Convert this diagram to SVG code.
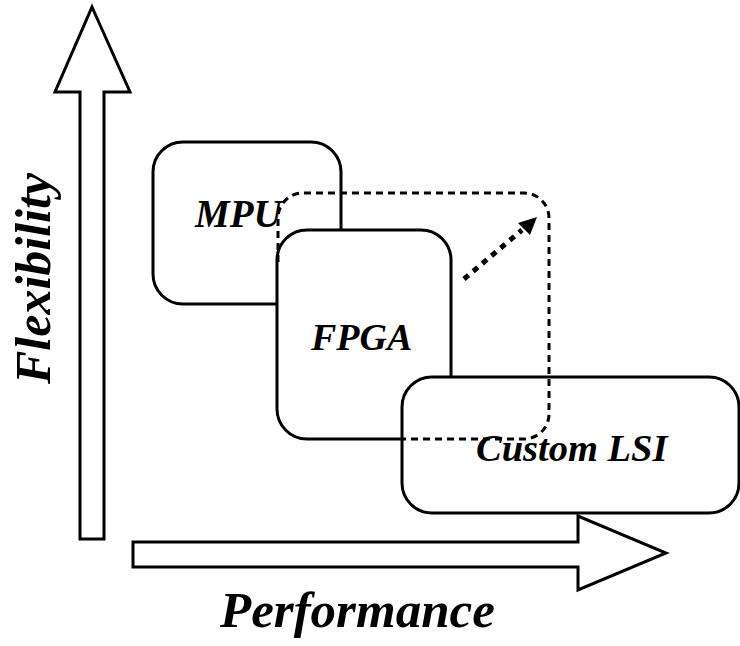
<svg xmlns="http://www.w3.org/2000/svg" width="740" height="646" viewBox="0 0 740 646">
<defs>
<style>
.sh{fill:#fff;stroke:#000;stroke-width:3;stroke-linejoin:miter}
.bx{fill:#fff;stroke:#000;stroke-width:3}
.lb{font-family:"Liberation Serif","Times New Roman",serif;font-weight:bold;font-style:italic;fill:#000}
</style>
</defs>
<rect width="740" height="646" fill="#fff"/>
<g id="axis-flexibility">
<polygon class="sh" points="92,7 130,92 104,92 104,539 80,539 80,92 55,92"/>
<text class="lb" font-size="50" transform="translate(50,384) rotate(-90)">Flexibility</text>
</g>
<g id="axis-performance">
<polygon class="sh" points="133,542 578,542 578,516 666,553 578,590 578,567 133,567"/>
<text class="lb" font-size="51" x="220" y="627">Performance</text>
</g>
<g id="mpu">
<rect class="bx" x="153" y="142" width="188" height="162" rx="30" ry="30"/>
<text class="lb" font-size="39" x="195" y="227">MPU</text>
</g>
<g id="fpga">
<rect class="bx" x="277" y="230" width="174" height="209" rx="30" ry="30"/>
<text class="lb" font-size="38" x="311" y="350">FPGA</text>
</g>
<g id="custom-lsi">
<rect class="bx" x="402" y="377" width="337" height="136" rx="30" ry="30"/>
<text class="lb" font-size="38.5" x="476" y="461">Custom LSI</text>
</g>
<g id="connectors">
<path d="M278,262 V218 A25,25 0 0 1 303,193 H524 A25,25 0 0 1 549,218 V414 A25,25 0 0 1 524,439 H402" fill="none" stroke="#000" stroke-width="3" stroke-dasharray="7,5"/>
<line x1="464" y1="279" x2="522" y2="230" stroke="#000" stroke-width="5" stroke-dasharray="6,6"/>
<polygon points="537,217 518,223 530,235" fill="#000"/>
</g>
</svg>
